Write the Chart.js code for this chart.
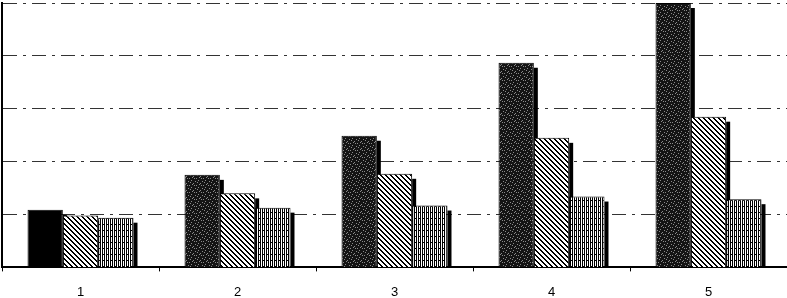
<!DOCTYPE html>
<html>
<head>
<meta charset="utf-8">
<script src="https://cdn.jsdelivr.net/npm/chart.js@4"></script>
<style>
  html, body { margin: 0; padding: 0; background: #fff; }
  #wrap { width: 787px; height: 298px; }
</style>
</head>
<body>
<div id="wrap"><canvas id="chart"></canvas></div>
<script>
const categories = ['1', '2', '3', '4', '5'];
const darkValues = [1.09, 1.75, 2.49, 3.87, 5.0];
const diagValues = [0.98, 1.40, 1.77, 2.45, 2.85];
const vertValues = [0.94, 1.13, 1.17, 1.34, 1.29];
const yTicks = [0, 1, 2, 3, 4, 5];

// small tile canvases used as bar fills
const makeTile = function(w, h, draw){
  const c = document.createElement('canvas');
  c.width = w;
  c.height = h;
  const g = c.getContext('2d');
  draw(g);
  return c.getContext('2d').createPattern(c, 'repeat');
}

const speckle = makeTile(7, 7, (g) => {
  g.fillStyle = '#141414';
  g.fillRect(0, 0, 7, 7);
  g.fillStyle = '#8a8a8a';
  [[1,0],[4,1],[0,3],[5,3],[2,5],[6,6],[3,2]].forEach((p) => g.fillRect(p[0], p[1], 1, 1));
});

const diagonal = makeTile(5, 5, (g) => {
  g.fillStyle = '#fff';
  g.fillRect(0, 0, 5, 5);
  g.fillStyle = '#000';
  for (let i = 0; i < 5; i++) {
    g.fillRect(i, i, 2, 1);
  }
  g.fillRect(0, 4, 1, 1);
});

const vertical = makeTile(4, 6, (g) => {
  g.fillStyle = '#fff';
  g.fillRect(0, 0, 4, 6);
  g.fillStyle = '#000';
  g.fillRect(0, 0, 1, 6);
  g.fillRect(2, 0, 1, 6);
  g.fillRect(3, 2, 1, 1);
});

// first dark bar is solid black in the original
const darkFills = darkValues.map((v, i) => i === 0 ? '#000' : speckle);

// black drop shadow on the right of each bar, drawn before the bars
const barShadow = {
  id: 'barShadow',
  beforeDatasetsDraw(chart){
    const ctx = chart.ctx;
    ctx.save();
    ctx.fillStyle = '#000';
    chart.data.datasets.forEach((ds, i) => {
      chart.getDatasetMeta(i).data.forEach((bar) => {
        const right = bar.x + bar.width / 2;
        ctx.fillRect(right, bar.y + 5, 4, bar.base - bar.y - 5);
      });
    });
    ctx.restore();
  }
};

const chart = new Chart(document.getElementById('chart'), {
  type: 'bar',
  data: {
    labels: categories,
    datasets: [
      { data: darkValues, backgroundColor: darkFills, borderColor: '#000', borderWidth: 1 },
      { data: diagValues, backgroundColor: diagonal, borderColor: '#000', borderWidth: 1 },
      { data: vertValues, backgroundColor: vertical, borderColor: '#000', borderWidth: 1 }
    ]
  },
  options: {
    responsive: true,
    maintainAspectRatio: false,
    animation: false,
    layout: { padding: { left: 2, right: 0, top: 3, bottom: -15 } },
    datasets: { bar: { categoryPercentage: 0.675, barPercentage: 1.0, clip: false } },
    plugins: { legend: { display: false }, tooltip: { enabled: false } },
    scales: {
      x: {
        grid: { offset: true, drawOnChartArea: false, color: '#000', tickLength: 4 },
        border: { color: '#000', width: 2 },
        ticks: { color: '#000', padding: 13, font: { family: 'Liberation Sans', size: 13 } }
      },
      y: {
        min: 0,
        max: 5,
        afterBuildTicks: (axis) => { axis.ticks = yTicks.map((v) => ({ value: v })); },
        ticks: { display: false },
        grid: { color: '#333', drawTicks: false },
        border: { color: '#000', width: 2, dash: [14, 6, 3, 6] }
      },
      y2: {
        position: 'right',
        min: 0,
        max: 5,
        ticks: { display: false },
        grid: { display: false, drawTicks: false },
        border: { color: '#333', width: 1 }
      }
    }
  },
  plugins: [barShadow]
});
</script>
</body>
</html>
